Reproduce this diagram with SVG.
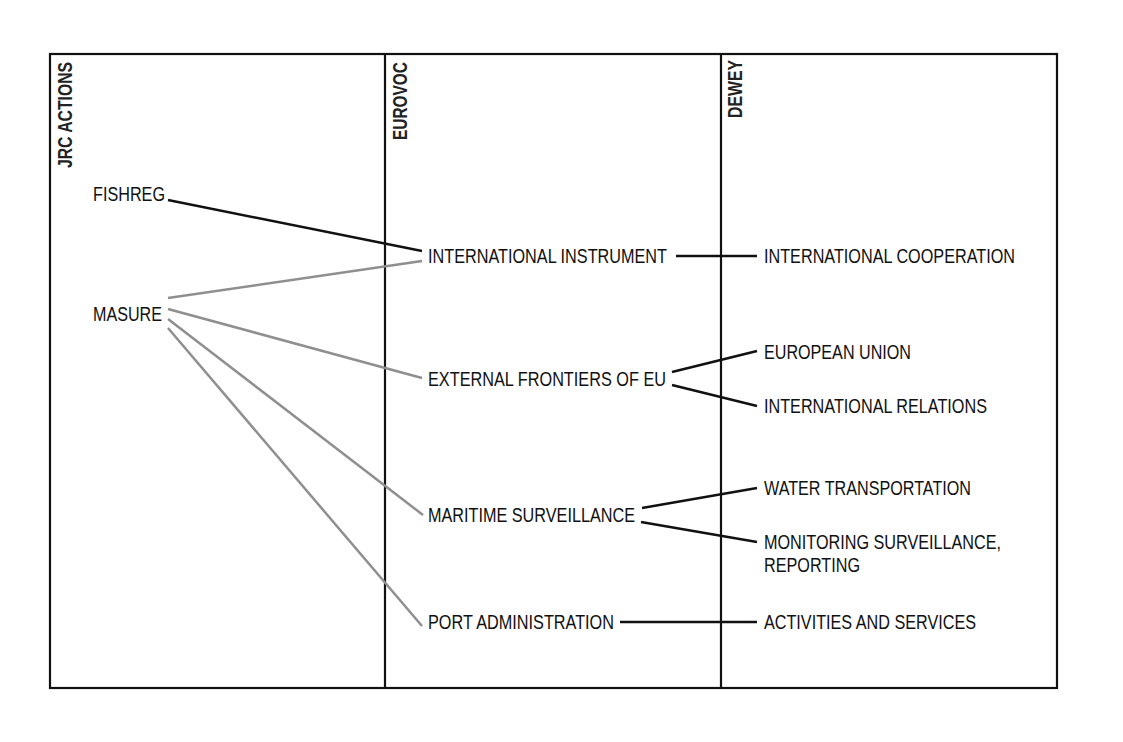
<svg xmlns="http://www.w3.org/2000/svg" width="1123" height="742" viewBox="0 0 1123 742">
<style>
.t{font-family:"Liberation Sans",Arial,sans-serif;font-size:19.5px;fill:#111}
.h{font-family:"Liberation Sans",Arial,sans-serif;font-size:21px;font-weight:bold;fill:#222}
.frame{fill:none;stroke:#111;stroke-width:2.2}
.k{stroke:#111;stroke-width:2.5;fill:none}
.g{stroke:#8f8f8f;stroke-width:2.5;fill:none}
</style>
<rect width="1123" height="742" fill="#fff"/>
<g id="frame">
<rect class="frame" x="50" y="54" width="1007" height="634"/>
<line class="frame" x1="385" y1="54" x2="385" y2="688"/>
<line class="frame" x1="721" y1="54" x2="721" y2="688"/>
</g>
<g id="headers">
<text class="h" transform="translate(71.5,168) rotate(-90)" textLength="106" lengthAdjust="spacingAndGlyphs">JRC ACTIONS</text>
<text class="h" transform="translate(407,140) rotate(-90)" textLength="78" lengthAdjust="spacingAndGlyphs">EUROVOC</text>
<text class="h" transform="translate(742,118) rotate(-90)" textLength="58" lengthAdjust="spacingAndGlyphs">DEWEY</text>
</g>
<g id="connectors">
<line class="k" x1="168" y1="200" x2="422" y2="251"/>
<line class="g" x1="168" y1="298" x2="422" y2="261"/>
<line class="g" x1="168" y1="309" x2="422" y2="378"/>
<line class="g" x1="168" y1="319" x2="423" y2="515"/>
<line class="g" x1="168" y1="328" x2="422" y2="626"/>
<line class="k" x1="676" y1="256" x2="757" y2="256"/>
<line class="k" x1="672" y1="372" x2="757" y2="351"/>
<line class="k" x1="672" y1="385" x2="757" y2="406"/>
<line class="k" x1="642" y1="508" x2="757" y2="488"/>
<line class="k" x1="641" y1="522" x2="757" y2="542"/>
<line class="k" x1="620" y1="622" x2="757" y2="622"/>
</g>
<g id="n-fishreg"><text class="t" x="93" y="201" textLength="72" lengthAdjust="spacingAndGlyphs">FISHREG</text></g>
<g id="n-masure"><text class="t" x="93" y="321" textLength="69" lengthAdjust="spacingAndGlyphs">MASURE</text></g>
<g id="n-intl-instrument"><text class="t" x="428" y="263" textLength="239" lengthAdjust="spacingAndGlyphs">INTERNATIONAL INSTRUMENT</text></g>
<g id="n-external-frontiers"><text class="t" x="428" y="386" textLength="238" lengthAdjust="spacingAndGlyphs">EXTERNAL FRONTIERS OF EU</text></g>
<g id="n-maritime"><text class="t" x="428" y="522" textLength="207" lengthAdjust="spacingAndGlyphs">MARITIME SURVEILLANCE</text></g>
<g id="n-port"><text class="t" x="428" y="629" textLength="186" lengthAdjust="spacingAndGlyphs">PORT ADMINISTRATION</text></g>
<g id="n-intl-coop"><text class="t" x="764" y="263" textLength="251" lengthAdjust="spacingAndGlyphs">INTERNATIONAL COOPERATION</text></g>
<g id="n-eu"><text class="t" x="764" y="359" textLength="147" lengthAdjust="spacingAndGlyphs">EUROPEAN UNION</text></g>
<g id="n-intl-rel"><text class="t" x="764" y="413" textLength="223" lengthAdjust="spacingAndGlyphs">INTERNATIONAL RELATIONS</text></g>
<g id="n-water"><text class="t" x="764" y="495" textLength="207" lengthAdjust="spacingAndGlyphs">WATER TRANSPORTATION</text></g>
<g id="n-monitoring"><text class="t" x="764" y="549" textLength="237" lengthAdjust="spacingAndGlyphs">MONITORING SURVEILLANCE,</text><text class="t" x="764" y="572" textLength="96" lengthAdjust="spacingAndGlyphs">REPORTING</text></g>
<g id="n-activities"><text class="t" x="764" y="629" textLength="212" lengthAdjust="spacingAndGlyphs">ACTIVITIES AND SERVICES</text></g>
</svg>
